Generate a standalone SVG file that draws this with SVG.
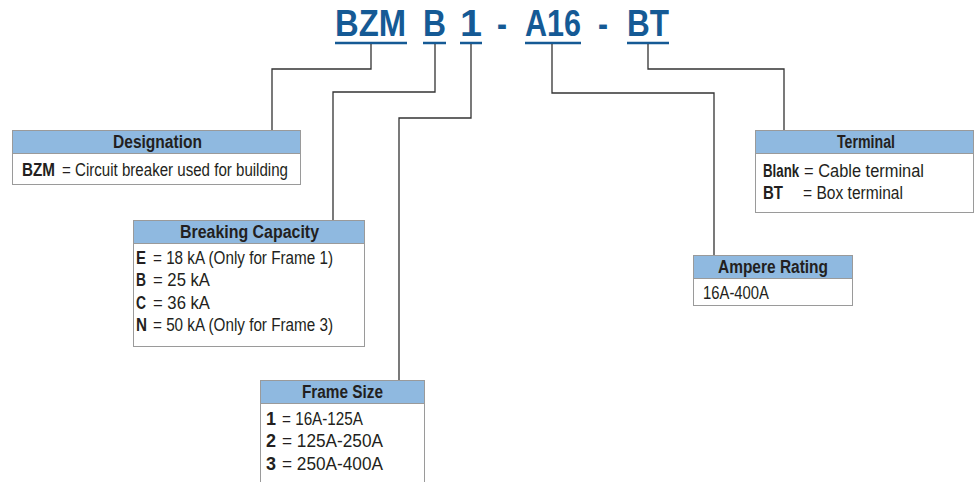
<svg xmlns="http://www.w3.org/2000/svg" width="975" height="482" viewBox="0 0 975 482">
<style>
text{font-family:"Liberation Sans Narrow","Liberation Sans",Arial,sans-serif;fill:#231f20}
.t{font-size:37px;font-weight:bold;fill:#155a95}
.h{font-size:18px;font-weight:bold}
.b{font-size:17.5px}
.bb{font-size:17.5px;font-weight:bold}
.hd{fill:#8fb9e0;stroke:#9a9a9a;stroke-width:1}
.bd{fill:#fff;stroke:#9a9a9a;stroke-width:1}
.ul{stroke:#155a95;stroke-width:2.5}
.c{fill:none;stroke:#333;stroke-width:1.3}
</style>
<rect width="975" height="482" fill="#fff"/>
<g id="title">
<text class="t" x="335" y="36" textLength="71" lengthAdjust="spacingAndGlyphs">BZM</text>
<text class="t" x="423" y="36" textLength="23" lengthAdjust="spacingAndGlyphs">B</text>
<text class="t" x="460" y="36" textLength="22" lengthAdjust="spacingAndGlyphs">1</text>
<text class="t" x="497" y="36" textLength="10" lengthAdjust="spacingAndGlyphs">-</text>
<text class="t" x="525" y="36" textLength="56" lengthAdjust="spacingAndGlyphs">A16</text>
<text class="t" x="598" y="36" textLength="10" lengthAdjust="spacingAndGlyphs">-</text>
<text class="t" x="627" y="36" textLength="42" lengthAdjust="spacingAndGlyphs">BT</text>
<line class="ul" x1="335" y1="43" x2="407" y2="43"/>
<line class="ul" x1="423" y1="43" x2="446" y2="43"/>
<line class="ul" x1="460" y1="43" x2="482" y2="43"/>
<line class="ul" x1="525" y1="43" x2="581" y2="43"/>
<line class="ul" x1="627" y1="43" x2="669" y2="43"/>
</g>
<g id="connectors">
<path class="c" d="M371,44 V69 H272 V130"/>
<path class="c" d="M435,44 V92 H333 V220"/>
<path class="c" d="M471,44 V118 H399 V380"/>
<path class="c" d="M552,44 V93 H714 V255"/>
<path class="c" d="M648,44 V69 H784 V130"/>
</g>
<g id="designation">
<rect class="bd" x="12.5" y="130.5" width="288" height="54"/>
<rect class="hd" x="12.5" y="130.5" width="288" height="23"/>
<text class="h" x="113" y="148" textLength="89" lengthAdjust="spacingAndGlyphs">Designation</text>
<text class="bb" x="22" y="176" textLength="33" lengthAdjust="spacingAndGlyphs">BZM</text>
<text class="b" x="62" y="176" textLength="226" lengthAdjust="spacingAndGlyphs">= Circuit breaker used for building</text>
</g>
<g id="breaking-capacity">
<rect class="bd" x="133.5" y="220.5" width="231" height="126"/>
<rect class="hd" x="133.5" y="220.5" width="231" height="23"/>
<text class="h" x="180" y="238" textLength="139" lengthAdjust="spacingAndGlyphs">Breaking Capacity</text>
<text class="bb" x="136" y="264" textLength="10" lengthAdjust="spacingAndGlyphs">E</text>
<text class="b" x="153" y="264" textLength="180" lengthAdjust="spacingAndGlyphs">= 18 kA (Only for Frame 1)</text>
<text class="bb" x="136" y="286" textLength="10" lengthAdjust="spacingAndGlyphs">B</text>
<text class="b" x="153" y="286" textLength="57" lengthAdjust="spacingAndGlyphs">= 25 kA</text>
<text class="bb" x="136" y="309" textLength="10" lengthAdjust="spacingAndGlyphs">C</text>
<text class="b" x="153" y="309" textLength="57" lengthAdjust="spacingAndGlyphs">= 36 kA</text>
<text class="bb" x="136" y="331" textLength="11" lengthAdjust="spacingAndGlyphs">N</text>
<text class="b" x="153" y="331" textLength="180" lengthAdjust="spacingAndGlyphs">= 50 kA (Only for Frame 3)</text>
</g>
<g id="frame-size">
<rect class="bd" x="260.5" y="380.5" width="164" height="110"/>
<rect class="hd" x="260.5" y="380.5" width="164" height="23"/>
<text class="h" x="302" y="398" textLength="81" lengthAdjust="spacingAndGlyphs">Frame Size</text>
<text class="bb" x="266" y="425" textLength="10" lengthAdjust="spacingAndGlyphs">1</text>
<text class="b" x="282" y="425" textLength="81" lengthAdjust="spacingAndGlyphs">= 16A-125A</text>
<text class="bb" x="266" y="447" textLength="10" lengthAdjust="spacingAndGlyphs">2</text>
<text class="b" x="282" y="447" textLength="101" lengthAdjust="spacingAndGlyphs">= 125A-250A</text>
<text class="bb" x="266" y="470" textLength="10" lengthAdjust="spacingAndGlyphs">3</text>
<text class="b" x="282" y="470" textLength="101" lengthAdjust="spacingAndGlyphs">= 250A-400A</text>
</g>
<g id="ampere-rating">
<rect class="bd" x="693.5" y="255.5" width="159" height="50"/>
<rect class="hd" x="693.5" y="255.5" width="159" height="23"/>
<text class="h" x="718" y="273" textLength="110" lengthAdjust="spacingAndGlyphs">Ampere Rating</text>
<text class="b" x="703" y="299" textLength="66" lengthAdjust="spacingAndGlyphs">16A-400A</text>
</g>
<g id="terminal">
<rect class="bd" x="755.5" y="130.5" width="218" height="82"/>
<rect class="hd" x="755.5" y="130.5" width="218" height="23"/>
<text class="h" x="837" y="148" textLength="58" lengthAdjust="spacingAndGlyphs">Terminal</text>
<text class="bb" transform="translate(763,177) scale(0.76,1)" x="0" y="0">Blank</text>
<text class="b" x="804" y="177" textLength="120" lengthAdjust="spacingAndGlyphs">= Cable terminal</text>
<text class="bb" x="763" y="199" textLength="20" lengthAdjust="spacingAndGlyphs">BT</text>
<text class="b" x="803" y="199" textLength="100" lengthAdjust="spacingAndGlyphs">= Box terminal</text>
</g>
</svg>
